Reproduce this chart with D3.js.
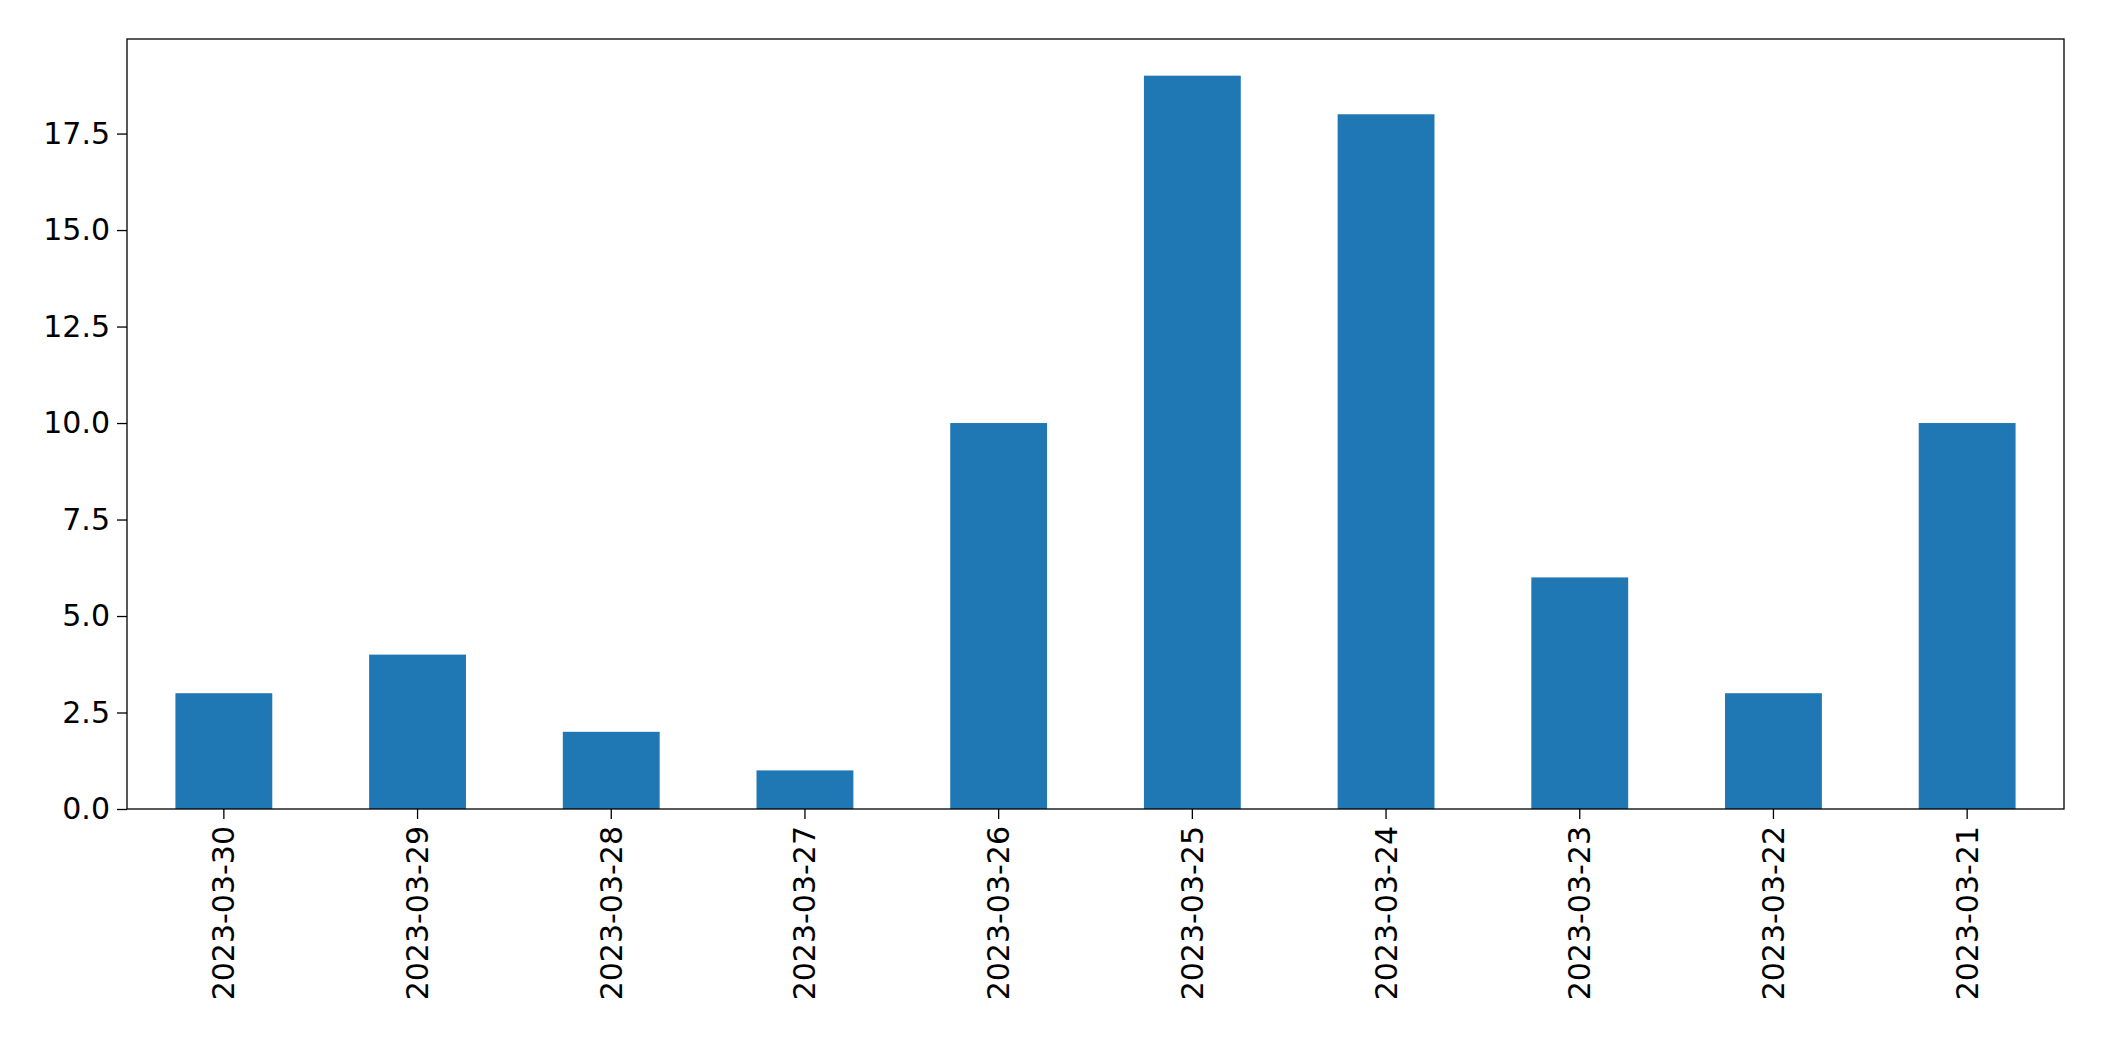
<!DOCTYPE html>
<html>
<head>
<meta charset="utf-8">
<script src="https://cdn.jsdelivr.net/npm/d3@7"></script>
<style>
	body { margin: 0; background: #fff; }
	svg text { font-family: "DejaVu Sans", sans-serif; }
</style>
</head>
<body>
<svg id="chart" width="2104" height="1061"></svg>
<script>
// data
let dates = ['2023-03-30','2023-03-29','2023-03-28','2023-03-27','2023-03-26',
	'2023-03-25','2023-03-24','2023-03-23','2023-03-22','2023-03-21']
let counts = [3, 4, 2, 1, 10, 19, 18, 6, 3, 10]
let yTicks = [0, 2.5, 5, 7.5, 10, 12.5, 15, 17.5]

let m = {left: 127, right: 2064, top: 39, bottom: 809}
let svg = d3.select('#chart')

let x = d3.scaleBand().domain(dates).range([m.left, m.right]).padding(0)
let y = d3.scaleLinear().domain([0, 19 * 1.05]).range([m.bottom, m.top])

// bars at half the band width, centred
svg.append('g').selectAll('rect')
	.data(dates)
	.join('rect')
	.attr('x', (d) => x(d) + x.bandwidth() * 0.25)
	.attr('width', x.bandwidth() * 0.5)
	.attr('y', (d, i) => y(counts[i]))
	.attr('height', (d, i) => y(0) - y(counts[i]))
	.attr('fill', '#1f77b4')

let yAxis = svg.append('g')
	.attr('transform', `translate(${m.left},0)`)
	.call(d3.axisLeft(y).tickValues(yTicks).tickFormat(d3.format('.1f')).tickSizeOuter(0).tickSize(10).tickPadding(7))

let xAxis = svg.append('g')
	.attr('transform', `translate(0,${m.bottom})`)
	.call(d3.axisBottom(x).tickSizeOuter(0).tickSize(10).tickPadding(7))

xAxis.selectAll('text')
	.attr('transform', 'rotate(-90)')
	.attr('text-anchor', 'end')
	.attr('x', -17)
	.attr('y', 0)
	.attr('dy', '0.35em')

svg.selectAll('.tick text').attr('font-size', 30).attr('fill', '#000')
	.attr('font-family', '"DejaVu Sans", sans-serif')
svg.selectAll('.tick line').attr('stroke', '#000').attr('stroke-width', 1.3)
svg.selectAll('.domain').remove()

// frame around the axes
svg.append('rect')
	.attr('x', m.left).attr('y', m.top)
	.attr('width', m.right - m.left).attr('height', m.bottom - m.top)
	.attr('fill', 'none').attr('stroke', '#000').attr('stroke-width', 1.3)
</script>
</body>
</html>
